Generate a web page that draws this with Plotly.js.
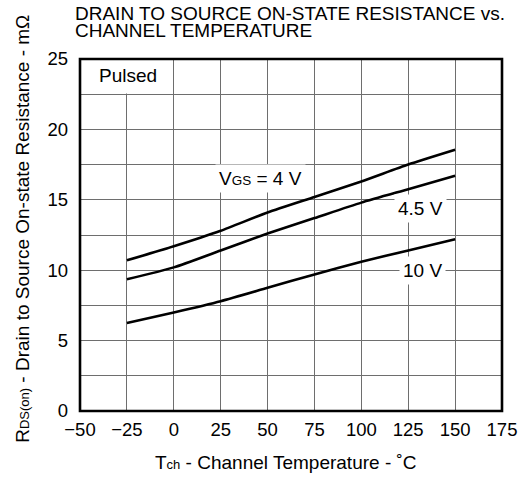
<!DOCTYPE html>
<html>
<head>
<meta charset="utf-8">
<script src="https://cdn.plot.ly/plotly-3.0.1.min.js"></script>
<style>html,body{margin:0;padding:0;background:#fff;}#chart{width:527px;height:478px;}</style>
</head>
<body>
<div id="chart"></div>
<script>
// Channel temperature (°C)
const temps = [-25, 0, 25, 50, 75, 100, 125, 150];
// RDS(on) in mΩ for each gate voltage
const rds_vgs4 = [10.7, 11.7, 12.8, 14.1, 15.2, 16.3, 17.5, 18.55];
const rds_vgs45 = [9.35, 10.2, 11.4, 12.6, 13.7, 14.8, 15.75, 16.7];
const rds_vgs10 = [6.25, 7.0, 7.8, 8.75, 9.7, 10.6, 11.4, 12.2];
const seriesLabels = ['V<span style="font-size:13.5px">GS</span> = 4 V', '4.5 V', '10 V'];
const labelPos = [[46.5, 16.5], [131.5, 14.35], [132.5, 10.0]];
const xTickVals = [-50, -25, 0, 25, 50, 75, 100, 125, 150, 175];
const yTickVals = [0, 5, 10, 15, 20, 25];
const titleLines = ['DRAIN TO SOURCE ON-STATE RESISTANCE vs.', 'CHANNEL TEMPERATURE'];
const xTitle = 'T<span style="font-size:13px">ch</span> - Channel Temperature - ˚C';
const yTitle = 'R<span style="font-size:13px">DS(on)</span> - Drain to Source On-state Resistance - mΩ';

const FONT = 'Liberation Sans, Arial, sans-serif';
const GRID = '#6e6e6e';
const TXT = {family: FONT, size: 19, color: '#000'};

const lineStyle = {color: '#000', width: 2.6, shape: 'spline', smoothing: 0.6};
const traces = [rds_vgs4, rds_vgs45, rds_vgs10].map(v => ({
  x: temps, y: v, type: 'scatter', mode: 'lines', line: lineStyle, hoverinfo: 'skip'
}));

const annotations = seriesLabels.map((t, i) => ({
  x: labelPos[i][0], y: labelPos[i][1], xref: 'x', yref: 'y', text: t,
  showarrow: false, bgcolor: '#fff', borderpad: 3, font: TXT
}));
annotations.push({x: -24.5, y: 23.8, xref: 'x', yref: 'y', text: 'Pulsed', showarrow: false, font: TXT});
annotations.push({x: -0.017, y: 1.128, xref: 'paper', yref: 'paper', xanchor: 'left', yanchor: 'middle',
  text: titleLines[0], showarrow: false, font: TXT});
annotations.push({x: -0.017, y: 1.082, xref: 'paper', yref: 'paper', xanchor: 'left', yanchor: 'middle',
  text: titleLines[1], showarrow: false, font: TXT});
annotations.push({x: 0.488, y: -0.146, xref: 'paper', yref: 'paper', xanchor: 'center', yanchor: 'middle',
  text: xTitle, showarrow: false, font: TXT});
annotations.push({x: -0.137, y: 0.518, xref: 'paper', yref: 'paper', xanchor: 'center', yanchor: 'middle',
  text: yTitle, textangle: -90, showarrow: false, font: TXT});

const layout = {
  width: 527, height: 478,
  margin: {l: 80, r: 25, t: 59, b: 67},
  paper_bgcolor: '#fff', plot_bgcolor: '#fff',
  showlegend: false,
  font: TXT,
  xaxis: {
    range: [-50, 175], tickvals: xTickVals, ticks: '', showline: false,
    showgrid: true, gridcolor: GRID, gridwidth: 1, zeroline: false,
    tickfont: {family: FONT, size: 18.5, color: '#000'}, ticklabelstandoff: 5
  },
  yaxis: {
    range: [0, 25], tickvals: yTickVals, ticks: '', showline: false,
    showgrid: true, gridcolor: GRID, gridwidth: 1, zeroline: false,
    minor: {dtick: 2.5, showgrid: true, gridcolor: GRID, gridwidth: 1},
    tickfont: {family: FONT, size: 18.5, color: '#000'}, ticklabelstandoff: 11
  },
  shapes: [
    {type: 'rect', xref: 'x', yref: 'y', x0: -50, x1: -0.6, y0: 22.55, y1: 25, fillcolor: '#fff', line: {width: 0}, layer: 'above'},
    {type: 'rect', xref: 'paper', yref: 'paper', x0: 0, x1: 1, y0: 0, y1: 1, line: {color: '#000', width: 2.6}, layer: 'above'}
  ],
  annotations: annotations
};

Plotly.newPlot('chart', traces, layout, {staticPlot: true, displayModeBar: false});
</script>
</body>
</html>
